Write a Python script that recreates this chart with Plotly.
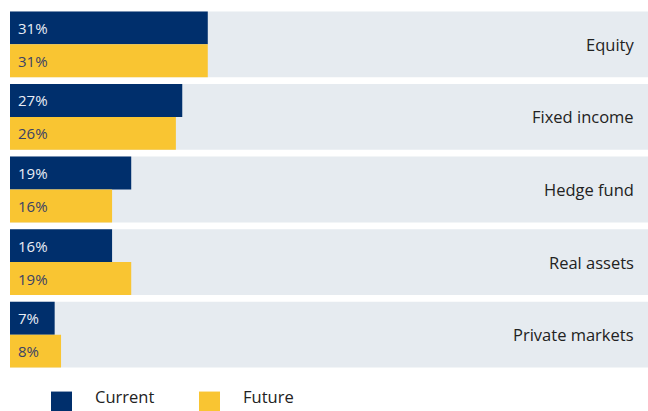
import plotly.graph_objects as go

categories = ["Equity", "Fixed income", "Hedge fund", "Real assets", "Private markets"]
current = [31, 27, 19, 16, 7]
future = [31, 26, 16, 19, 8]
series_names = ["Current", "Future"]

NAVY = "#002F6C"
YELLOW = "#F9C532"
BAND = "#E6EBF0"
FONT = "Open Sans"

pos = list(range(len(categories)))
band_w = 0.907
half = band_w / 2

fig = go.Figure()
fig.add_trace(go.Bar(
    y=pos, x=[100] * len(pos), orientation="h", width=band_w,
    marker=dict(color=BAND, line=dict(width=0)), showlegend=False, hoverinfo="skip"))
fig.add_trace(go.Bar(
    y=pos, x=current, orientation="h", width=half, offset=-half,
    marker=dict(color=NAVY, line=dict(width=0)), name=series_names[0], showlegend=False))
fig.add_trace(go.Bar(
    y=pos, x=future, orientation="h", width=half, offset=0,
    marker=dict(color=YELLOW, line=dict(width=0)), name=series_names[1], showlegend=False))

annotations = []
for i, (c, f) in enumerate(zip(current, future)):
    annotations.append(dict(x=0, y=i - half / 2, xref="x", yref="y", text=f"{c}%",
                            showarrow=False, xanchor="left", xshift=6,
                            font=dict(family=FONT, size=15, color="#E9EDF5")))
    annotations.append(dict(x=0, y=i + half / 2, xref="x", yref="y", text=f"{f}%",
                            showarrow=False, xanchor="left", xshift=6,
                            font=dict(family=FONT, size=15, color="#3B4266")))
    annotations.append(dict(x=1, y=i, xref="paper", yref="y", text=categories[i],
                            showarrow=False, xanchor="right", xshift=-12,
                            font=dict(family=FONT, size=16.5, color="#222222")))

# legend drawn manually (large square swatches)
H = 411
t, b = 7.6, 39.6
ph = H - t - b
def py(p):
    return (H - b - p) / ph

shapes = []
leg = [(NAVY, 51, 93, series_names[0]), (YELLOW, 199, 241, series_names[1])]
W = 648 - 10
for col, x0, tx, name in leg:
    shapes.append(dict(type="rect", xref="paper", yref="paper",
                       x0=(x0 - 10) / W, x1=(x0 + 21 - 10) / W,
                       y0=py(392), y1=py(414), fillcolor=col, line=dict(width=0)))
    annotations.append(dict(x=(tx - 10) / W, y=py(410.5), xref="paper", yref="paper",
                            text=name, showarrow=False, xanchor="left", yanchor="bottom",
                            font=dict(family=FONT, size=16.5, color="#222222")))

fig.update_layout(
    width=648, height=411,
    margin=dict(l=10, r=0, t=t, b=b),
    paper_bgcolor="white", plot_bgcolor="white",
    barmode="overlay",
    xaxis=dict(range=[0, 100], visible=False, fixedrange=True),
    yaxis=dict(range=[len(pos) - 0.5, -0.5], visible=False, fixedrange=True),
    annotations=annotations, shapes=shapes,
    showlegend=False,
)
fig.write_html("out.html", config={"displayModeBar": False},
               post_script="document.body.style.margin='0';document.body.style.overflow='hidden';")
